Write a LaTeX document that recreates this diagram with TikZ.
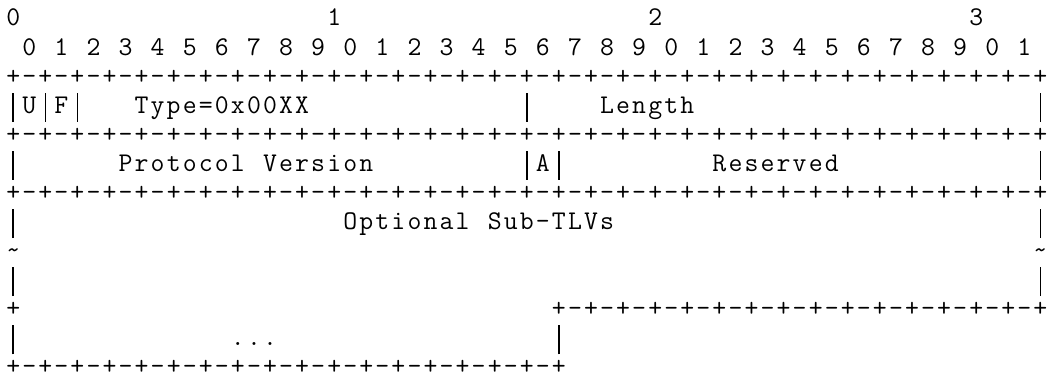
\documentclass[tikz,border=0pt]{standalone}
\newlength\cellw
\setlength\cellw{16.05pt}
\makeatletter
% one character per fixed-width cell, so the columns line up
\newcommand\mono[1]{\@tfor\ch:=#1\do{\makebox[\cellw]{\ch}}}
\makeatother
% a full-height bar, as tall as the row
\newcommand\wallbar{\makebox[\cellw]{\rule[-8.5pt]{1.5pt}{29pt}}}
\tikzset{cell/.style={anchor=base west, inner sep=0pt, font=\ttfamily\fontsize{27}{29}\selectfont}}

\begin{document}
\begin{tikzpicture}[x=\cellw, y=-29.08pt]
        \useasboundingbox (-0.3115,-0.894) rectangle (65.109,12.208);
        % bit ruler
        \foreach \w in {0,...,3}
            \node[cell] (word\w) at (20*\w,0) {\mono{\w}};
        \foreach \b in {0,...,31}{
            \pgfmathtruncatemacro{\d}{mod(\b,10)}
            \node[cell] (bit\b) at (2*\b+1,1) {\mono{\d}};
        }
        % +-+ separators
        \foreach \r/\a/\b in {2/0/64,4/0/64,6/0/64,10/0/0,10/34/64,12/0/34}
            \foreach \c in {\a,...,\b}
                \node[cell] (sep\r-\c) at (\c,\r) {\ifodd\c\relax\mono{-}\else\mono{+}\fi};
        % walls and cut marks
        \foreach \r/\c in {3/0,3/2,3/4,3/32,3/64,5/0,5/32,5/34,5/64,7/0,7/64,9/0,9/64,11/0,11/34}
            \node[cell] (wall\r-\c) at (\c,\r) {\wallbar};
        \foreach \c in {0,64}
            \node[cell] (cut\c) at (\c,8) {\mono{\textasciitilde}};
        % field names
        \node[cell] (uflag) at (1,3) {\mono{U}};
        \node[cell] (fflag) at (3,3) {\mono{F}};
        \node[cell] (type) at (8,3) {\mono{Type=0x00XX}};
        \node[cell] (length) at (37,3) {\mono{Length}};
        \node[cell] (version) at (7,5) {\mono{Protocol\ Version}};
        \node[cell] (aflag) at (33,5) {\mono{A}};
        \node[cell] (reserved) at (44,5) {\mono{Reserved}};
        \node[cell] (subtlvs) at (21,7) {\mono{Optional\ Sub-TLVs}};
        \node[cell] (more) at (14,11) {\mono{...}};
\end{tikzpicture}
\end{document}
